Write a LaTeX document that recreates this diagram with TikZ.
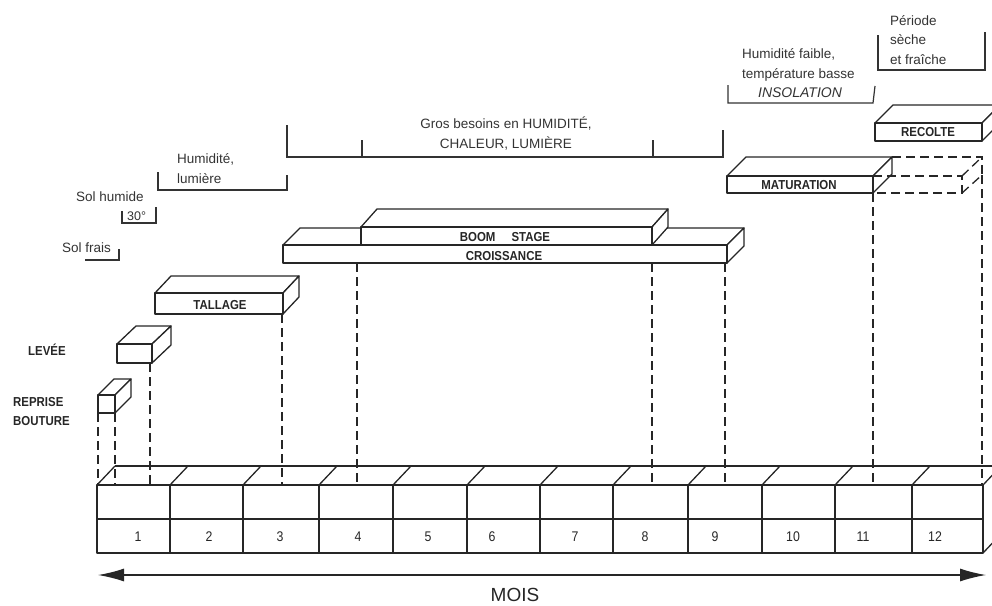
\documentclass[tikz,border=0pt]{standalone}
\usepackage{fontspec}
\setmainfont{Liberation Sans}
\newfontfamily\condf[FakeStretch=0.88]{Liberation Sans}
\usetikzlibrary{calc,arrows.meta}
\newcommand\myslab[6]{%
  \filldraw[slabf] (#1,#2) -- ++(#5,#6) -- ($(#3,#2)+(#5,#6)$) -- (#3,#2) -- cycle;
  \filldraw[slabf] (#3,#2) -- ++(#5,#6) -- ($(#3,#4)+(#5,#6)$) -- (#3,#4) -- cycle;
  \filldraw[slabf] (#1,#2) rectangle (#3,#4);
}
\begin{document}
\begin{tikzpicture}[x=1pt,y=-1pt,
  ln/.style={line width=1.3pt, draw=black!85, line join=round},
  slabf/.style={ln, fill=white},
  drop/.style={line width=1.3pt, draw=black!85, dash pattern=on 9pt off 5pt},
  lbl/.style={inner sep=0pt, font=\fontsize{13.5}{19.5}\selectfont, text=black!80},
  boxl/.style={inner sep=0pt, font=\condf\bfseries\fontsize{13}{19}\selectfont, text=black!85},
  num/.style={inner sep=0pt, font=\condf\fontsize{14}{16}\selectfont, text=black!85},
  brk/.style={line width=1.2pt, draw=black!80, line join=miter}]
\useasboundingbox (0,0) rectangle (992,605);
\clip (0,0) rectangle (992,605);

% ---- month bar ----
\foreach \x in {97,170,243,319,393,467,540,613,688,762,835,912}
  \draw[ln] (\x,485) -- ++(18,-19);
\draw[ln] (115,466) -- (1001,466);
\draw[ln] (97,485) rectangle (983,553);
\draw[ln] (97,519) -- (983,519);
\foreach \x in {170,243,319,393,467,540,613,688,762,835,912}
  \draw[ln] (\x,485) -- (\x,553);
\draw[ln] (983,485) -- (1001,466) -- (1001,534) -- (983,553);

% month numbers
\foreach \x/\n in {138/1,209/2,280/3,358/4,428/5,492/6,575/7,645/8,715/9,793/10,863/11,935/12}
  \node[num] (m\n) at (\x,537) {\n};

% ---- arrow ----
\coordinate (aL) at (98,575);
\coordinate (aR) at (986,575);
\draw[line width=1.4pt, draw=black!85,
  {Latex[length=26pt,width=13pt]}-{Latex[length=26pt,width=13pt]}] (aL) -- (aR);
\node[inner sep=0pt, font=\fontsize{19}{22}\selectfont, text=black!85] (mois) at (515,595) {MOIS};

% ---- drop lines ----
\draw[drop] (98,413) -- (98,485);
\draw[drop] (115,413) -- (115,485);
\draw[drop] (150,363) -- (150,485);
\draw[drop] (282,314) -- (282,485);
\draw[drop] (357,263) -- (357,485);
\draw[drop] (652,263) -- (652,485);
\draw[drop] (725,263) -- (725,485);
\draw[drop] (873,193) -- (873,485);
\draw[drop] (982,175) -- (982,485);

% ---- slabs ----
\myslab{98}{395}{115}{413}{16}{-16}
\myslab{117}{344}{152}{363}{19}{-18}
\myslab{155}{293}{283}{314}{16}{-17}
\myslab{283}{245}{727}{263}{17}{-17}
\myslab{361}{227}{652}{245}{16}{-18}
\myslab{727}{176}{873}{193}{19}{-19}
\myslab{875}{123}{982}{141}{18}{-18}

% dashed extension of maturation
\draw[drop] (873,176) -- (962,176) -- (962,193) -- (873,193);
\draw[drop] (892,157) -- (982,157) -- (982,175);
\draw[drop] (962,176) -- (982,157);
\draw[drop] (962,193) -- (982,175);

% slab labels
\node[boxl] (tallage) at (220,305) {TALLAGE};
\node[boxl] (boom) at (505,237) {BOOM\hspace{16pt}STAGE};
\node[boxl] (crois) at (504,256) {CROISSANCE};
\node[boxl] (matur) at (799,185) {MATURATION};
\node[boxl] (recol) at (928,132) {RECOLTE};
\node[boxl] (levee) at (47,350) {LEVÉE};
\node[boxl, align=left, anchor=west] (repr) at (13,412) {REPRISE\\BOUTURE};

% ---- brackets ----
\draw[brk] (85,260) -- (119,260) -- (119,249);
\draw[brk] (122,211) -- (122,223) -- (156,223) -- (156,207);
\draw[brk] (158,172) -- (158,190) -- (287,190) -- (287,175);
\draw[brk] (287,125) -- (287,157) -- (723,157) -- (723,130);
\draw[brk] (362,140) -- (362,157);
\draw[brk] (653,140) -- (653,157);
\draw[brk] (728,85) -- (728,103) -- (873,103) -- (875,86);
\draw[brk] (878,35) -- (878,70) -- (985,70) -- (985,32);

% ---- bracket labels (base = baseline of last line) ----
\node[lbl, anchor=base west] (solfrais) at (62,252) {Sol frais};
\node[lbl, anchor=base west] (solhum) at (76,201) {Sol humide};
\node[lbl, anchor=base west, font=\fontsize{12.5}{15}\selectfont] (trente) at (127,220) {30°};
\node[lbl, anchor=base west, align=left] (humlum) at (177,183) {Humidité,\\lumière};
\node[lbl, anchor=base, align=center] (gros) at (506,148) {Gros besoins en HUMIDITÉ,\\CHALEUR, LUMIÈRE};
\node[lbl, anchor=base west, align=left] (humfaib) at (742,78) {Humidité faible,\\température basse};
\node[lbl, anchor=base, font=\itshape\fontsize{14}{16}\selectfont] (insol) at (800,97) {INSOLATION};
\node[lbl, anchor=base west, align=left] (periode) at (890,64) {Période\\sèche\\et fraîche};
\end{tikzpicture}
\end{document}
